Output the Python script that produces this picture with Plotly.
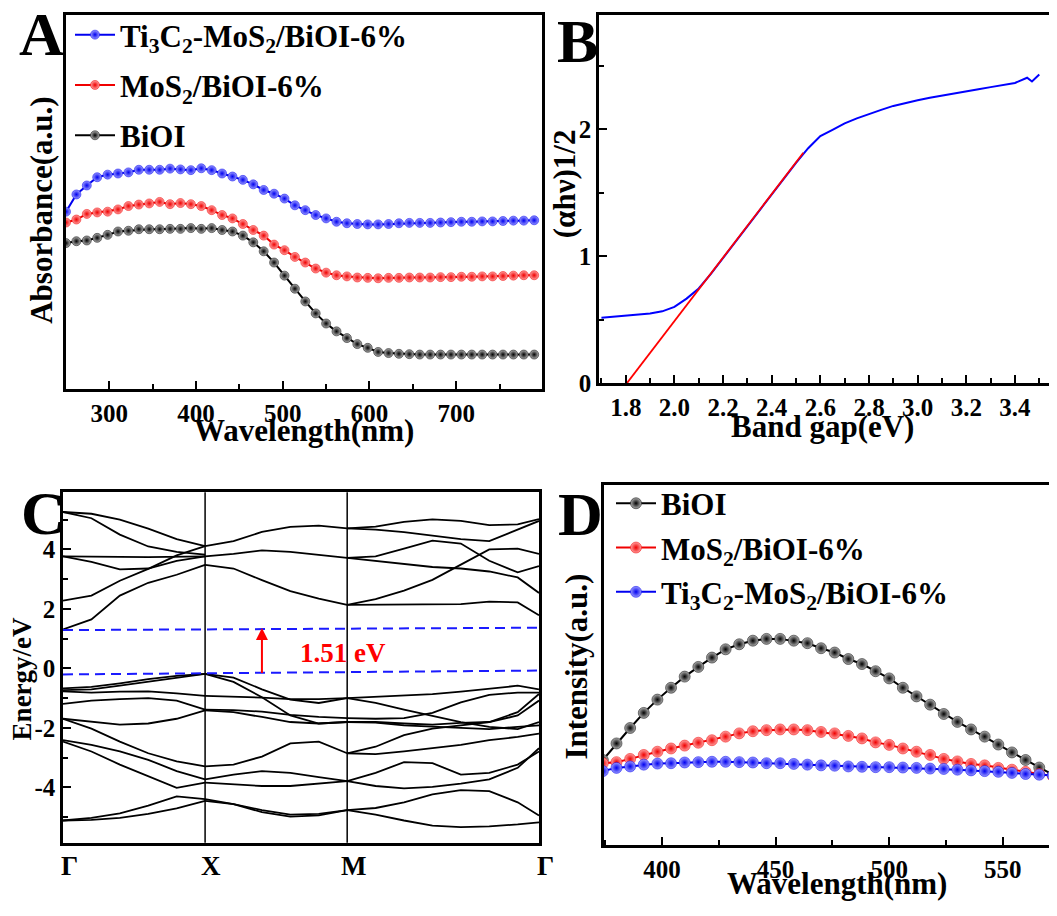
import plotly.graph_objects as go

# Page is 1057x916; the browser body keeps its 8px margin, so the figure is
# 1041x900 and sits 8px in from the top-left corner of the page.
PAGE_W, PAGE_H = 1057, 916
OFF = 8
W, H = PAGE_W - 2 * OFF, PAGE_H - 2 * OFF
FONT = "Liberation Serif"


def px(x):
    return (x - OFF) / W


def py(y):
    return 1 - (y - OFF) / H


# ---------------- Panel A: UV-vis absorbance ----------------
abs_wavelength = [250, 262, 274, 286, 298, 310, 322, 334, 346, 358, 370, 382, 394, 406, 418, 430,
                  442, 454, 466, 478, 490, 502, 514, 526, 538, 550, 562, 574, 586, 598, 610, 622,
                  634, 646, 658, 670, 682, 694, 706, 718, 730, 742, 754, 766, 778, 790]
abs_ti3c2 = [0.474, 0.520, 0.544, 0.566, 0.573, 0.576, 0.579, 0.586, 0.586, 0.586, 0.589, 0.587,
             0.585, 0.590, 0.585, 0.576, 0.568, 0.559, 0.547, 0.532, 0.522, 0.509, 0.491, 0.478,
             0.465, 0.456, 0.447, 0.443, 0.441, 0.440, 0.440, 0.441, 0.443, 0.444, 0.444, 0.444,
             0.445, 0.446, 0.447, 0.447, 0.448, 0.448, 0.449, 0.450, 0.450, 0.451]
abs_mos2 = [0.445, 0.453, 0.468, 0.472, 0.474, 0.480, 0.489, 0.493, 0.496, 0.500, 0.494, 0.497,
            0.494, 0.489, 0.478, 0.465, 0.456, 0.441, 0.425, 0.410, 0.386, 0.371, 0.353, 0.338,
            0.322, 0.311, 0.304, 0.301, 0.298, 0.297, 0.296, 0.297, 0.297, 0.298, 0.298, 0.298,
            0.299, 0.299, 0.300, 0.300, 0.301, 0.301, 0.302, 0.303, 0.304, 0.304]
abs_bioi = [0.390, 0.395, 0.397, 0.404, 0.412, 0.421, 0.423, 0.427, 0.427, 0.427, 0.428, 0.428,
            0.430, 0.428, 0.430, 0.425, 0.421, 0.410, 0.392, 0.368, 0.338, 0.303, 0.268, 0.234,
            0.202, 0.175, 0.154, 0.136, 0.120, 0.110, 0.099, 0.096, 0.094, 0.093, 0.092, 0.092,
            0.092, 0.092, 0.092, 0.092, 0.092, 0.092, 0.092, 0.092, 0.092, 0.092]

# ---------------- Panel B: Tauc plot ----------------
tauc_energy = [1.70, 1.75, 1.80, 1.85, 1.90, 1.95, 2.00, 2.05, 2.10, 2.15, 2.20, 2.25, 2.30, 2.35,
               2.40, 2.45, 2.50, 2.55, 2.60, 2.65, 2.70, 2.75, 2.80, 2.85, 2.90, 2.95, 3.00, 3.05,
               3.10, 3.15, 3.20, 3.25, 3.30, 3.35, 3.40, 3.45, 3.47, 3.50]
tauc_value = [0.515, 0.522, 0.530, 0.537, 0.548, 0.565, 0.600, 0.665, 0.745, 0.860, 0.985, 1.110,
              1.235, 1.362, 1.488, 1.612, 1.735, 1.850, 1.945, 1.995, 2.045, 2.085, 2.120, 2.152,
              2.183, 2.207, 2.227, 2.248, 2.266, 2.282, 2.297, 2.315, 2.331, 2.347, 2.364, 2.405,
              2.375, 2.430]
fit_energy = [1.805, 2.53]
fit_value = [0.0, 1.814]

# ---------------- Panel C: band structure ----------------
k_labels = ["Γ", "X", "M", "Γ"]
k_label_pos = [0.0, 1.0, 2.0, 3.35]
k_gx = [0.0, 0.2, 0.4, 0.6, 0.8, 1.0]
k_xm = [1.0, 1.2, 1.4, 1.6, 1.8, 2.0]
k_mg = [2.0, 2.2, 2.4, 2.6, 2.8, 3.0, 3.2, 3.35]

bands_gx = [
    [5.26, 5.20, 5.00, 4.70, 4.35, 4.11],
    [5.26, 5.05, 4.50, 4.10, 3.92, 3.83],
    [3.77, 3.77, 3.75, 3.74, 3.75, 3.77],
    [3.77, 3.58, 3.33, 3.36, 3.62, 3.77],
    [2.28, 2.45, 2.95, 3.35, 3.80, 4.11],
    [1.31, 1.65, 2.45, 2.88, 3.15, 3.48],
    [-0.67, -0.62, -0.50, -0.36, -0.25, -0.18],
    [-0.73, -0.70, -0.58, -0.45, -0.31, -0.18],
    [-0.77, -0.81, -0.78, -0.77, -0.84, -0.92],
    [-1.19, -1.08, -1.03, -1.00, -1.08, -1.38],
    [-1.69, -1.80, -1.89, -1.85, -1.69, -1.41],
    [-1.69, -2.02, -2.46, -2.85, -3.12, -3.29],
    [-2.41, -2.57, -2.79, -3.07, -3.45, -3.73],
    [-2.46, -2.79, -3.23, -3.62, -4.01, -3.84],
    [-5.11, -5.02, -4.87, -4.61, -4.30, -4.39],
    [-5.11, -5.09, -5.02, -4.89, -4.70, -4.45],
]
bands_xm = [
    [4.11, 4.28, 4.59, 4.76, 4.80, 4.71],
    [3.77, 3.85, 3.97, 3.92, 3.82, 3.72],
    [3.48, 3.36, 2.97, 2.60, 2.35, 2.14],
    [-0.18, -0.31, -0.70, -1.05, -1.16, -1.00],
    [-0.18, -0.45, -0.97, -1.58, -1.85, -1.80],
    [-0.92, -0.94, -0.98, -1.03, -1.03, -1.00],
    [-1.38, -1.40, -1.45, -1.56, -1.63, -1.67],
    [-1.41, -1.47, -1.63, -1.80, -1.85, -1.80],
    [-3.29, -3.23, -2.96, -2.52, -2.46, -2.85],
    [-3.73, -3.57, -3.45, -3.51, -3.65, -3.79],
    [-3.84, -3.90, -3.95, -3.95, -3.87, -3.79],
    [-4.39, -4.56, -4.83, -4.98, -4.94, -4.76],
    [-4.45, -4.56, -4.76, -4.91, -4.89, -4.76],
]
bands_mg = [
    [4.71, 4.77, 4.93, 5.01, 4.96, 4.82, 4.84, 5.02],
    [4.71, 4.67, 4.58, 4.47, 4.35, 4.28, 4.66, 4.96],
    [3.72, 3.77, 4.03, 4.30, 4.20, 3.62, 3.23, 3.44],
    [3.72, 3.61, 3.50, 3.41, 3.36, 3.26, 3.06, 2.54],
    [2.14, 2.33, 2.62, 2.98, 3.49, 4.00, 4.03, 3.85],
    [2.14, 2.14, 2.15, 2.16, 2.16, 2.25, 2.22, 1.79],
    [-1.00, -0.96, -0.92, -0.86, -0.78, -0.67, -0.58, -0.70],
    [-1.00, -1.16, -1.38, -1.58, -1.80, -1.96, -2.04, -1.80],
    [-1.67, -1.69, -1.67, -1.49, -1.14, -0.89, -0.81, -0.81],
    [-1.80, -1.80, -1.85, -1.89, -1.83, -1.80, -1.58, -1.08],
    [-1.80, -1.82, -1.91, -1.96, -2.00, -2.04, -1.96, -1.91],
    [-2.85, -2.63, -2.24, -2.02, -1.91, -1.80, -1.47, -0.86],
    [-2.85, -2.88, -2.79, -2.68, -2.57, -2.41, -2.30, -2.19],
    [-3.79, -3.51, -3.15, -3.18, -3.57, -3.51, -3.23, -2.79],
    [-3.79, -3.95, -4.03, -3.98, -3.87, -3.73, -3.34, -2.68],
    [-4.76, -4.69, -4.50, -4.23, -4.09, -4.12, -4.50, -4.94],
    [-4.76, -4.91, -5.11, -5.28, -5.33, -5.31, -5.24, -5.17],
]
cbm_k = [0.0, 3.35]
cbm_e = [1.29, 1.37]
vbm_k = [0.0, 3.35]
vbm_e = [-0.20, -0.07]
gap_arrow_k = 1.40
gap_arrow_e = [-0.20, 1.36]
gap_text = "1.51 eV"
gap_text_pos = (1.97, 0.53)

# ---------------- Panel D: PL spectra ----------------
pl_wavelength = [374, 380, 386, 392, 398, 404, 410, 416, 422, 428, 434, 440, 446, 452, 458, 464,
                 470, 476, 482, 488, 494, 500, 506, 512, 518, 524, 530, 536, 542, 548, 554, 560,
                 566, 572]
pl_bioi = [0.236, 0.282, 0.325, 0.367, 0.404, 0.437, 0.468, 0.495, 0.521, 0.544, 0.558, 0.568,
           0.573, 0.573, 0.568, 0.561, 0.547, 0.535, 0.517, 0.503, 0.483, 0.463, 0.437, 0.413,
           0.390, 0.364, 0.342, 0.321, 0.301, 0.279, 0.257, 0.236, 0.215, 0.195]
pl_mos2 = [0.227, 0.230, 0.239, 0.250, 0.259, 0.268, 0.276, 0.284, 0.291, 0.301, 0.310, 0.316,
           0.319, 0.321, 0.321, 0.319, 0.314, 0.310, 0.303, 0.296, 0.285, 0.278, 0.268, 0.259,
           0.250, 0.239, 0.232, 0.225, 0.221, 0.214, 0.209, 0.203, 0.197, 0.191]
pl_ti3c2 = [0.205, 0.214, 0.218, 0.223, 0.226, 0.227, 0.229, 0.230, 0.231, 0.231, 0.230, 0.229,
            0.227, 0.227, 0.225, 0.223, 0.221, 0.220, 0.218, 0.217, 0.216, 0.216, 0.215, 0.214,
            0.212, 0.211, 0.209, 0.207, 0.205, 0.203, 0.200, 0.197, 0.195, 0.193]

name_ti3c2 = "Ti<sub>3</sub>C<sub>2</sub>-MoS<sub>2</sub>/BiOI-6%"
name_mos2 = "MoS<sub>2</sub>/BiOI-6%"
name_bioi = "BiOI"

COL = {
    "blue": ("#9a9aff", "#0000f0"),
    "red": ("#ffa0a0", "#f00000"),
    "black": ("#b0b0b0", "#000000"),
}


def ball_trace(x, y, name, col, size, xa, ya, legend, group):
    light, dark = COL[col]
    return go.Scatter(
        x=x, y=y, name=name, mode="lines+markers", xaxis=xa, yaxis=ya,
        legend=legend, legendgroup=group,
        line=dict(color=dark, width=2),
        marker=dict(size=size, color=light, gradient=dict(type="radial", color=dark),
                    line=dict(width=0.5, color=dark)),
    )


fig = go.Figure()

# Panel A
fig.add_trace(ball_trace(abs_wavelength, abs_ti3c2, name_ti3c2, "blue", 9, "x", "y", "legend", "a1"))
fig.add_trace(ball_trace(abs_wavelength, abs_mos2, name_mos2, "red", 9, "x", "y", "legend", "a2"))
fig.add_trace(ball_trace(abs_wavelength, abs_bioi, name_bioi, "black", 9, "x", "y", "legend", "a3"))

# Panel B
fig.add_trace(go.Scatter(x=tauc_energy, y=tauc_value, mode="lines", xaxis="x2", yaxis="y2",
                         line=dict(color="#0000ff", width=2), showlegend=False))
fig.add_trace(go.Scatter(x=fit_energy, y=fit_value, mode="lines", xaxis="x2", yaxis="y2",
                         line=dict(color="#ff0000", width=1.8), showlegend=False))

# Panel C
for kk, bands in ((k_gx, bands_gx), (k_xm, bands_xm), (k_mg, bands_mg)):
    for b in bands:
        fig.add_trace(go.Scatter(x=kk, y=b, mode="lines", xaxis="x3", yaxis="y3",
                                 line=dict(color="black", width=1.8), showlegend=False))
for kk, ee in ((cbm_k, cbm_e), (vbm_k, vbm_e)):
    fig.add_trace(go.Scatter(x=kk, y=ee, mode="lines", xaxis="x3", yaxis="y3",
                             line=dict(color="#1a1aff", width=2, dash="10px,6px"),
                             showlegend=False))

# Panel D
fig.add_trace(ball_trace(pl_wavelength, pl_bioi, name_bioi, "black", 11, "x4", "y4", "legend2", "d1"))
fig.add_trace(ball_trace(pl_wavelength, pl_mos2, name_mos2, "red", 11, "x4", "y4", "legend2", "d2"))
fig.add_trace(ball_trace(pl_wavelength, pl_ti3c2, name_ti3c2, "blue", 11, "x4", "y4", "legend2", "d3"))

tickfont = dict(family=FONT, size=25, color="black", weight="bold")
axis_common = dict(showline=True, linecolor="black", linewidth=2.5, showgrid=False,
                   zeroline=False, tickfont=tickfont, ticks="inside", ticklen=8, tickwidth=2,
                   tickcolor="black")
minor_common = dict(ticks="inside", ticklen=5, tickwidth=2, tickcolor="black")

fig.update_layout(
    width=W, height=H, margin=dict(l=0, r=0, t=0, b=0),
    paper_bgcolor="white", plot_bgcolor="white",
    xaxis=dict(domain=[px(66), px(542)], range=[250, 799], anchor="y", mirror=True,
               tickmode="linear", tick0=300, dtick=100, minor=dict(dtick=50, **minor_common),
               **axis_common),
    yaxis=dict(domain=[py(395), py(15)], range=[0, 1], anchor="x", mirror=True,
               **{**axis_common, "ticks": "", "showticklabels": False}),
    xaxis2=dict(domain=[px(599), 1.0], range=[1.69, 3.54], anchor="y2", mirror=True,
                tickmode="linear", tick0=1.8, dtick=0.2, tickformat=".1f",
                minor=dict(dtick=0.1, **minor_common), **axis_common),
    yaxis2=dict(domain=[py(389), py(15)], range=[0, 2.9], anchor="x2", mirror=False,
                tickmode="linear", tick0=0, dtick=1, minor=dict(dtick=0.5, **minor_common),
                **axis_common),
    xaxis3=dict(domain=[px(63), px(539)], range=[0, 3.35], anchor="y3", mirror=True,
                **{**axis_common, "ticks": "", "showticklabels": False}),
    yaxis3=dict(domain=[py(856), py(500)], range=[-5.86, 5.92], anchor="x3", mirror=True,
                tickmode="array", tickvals=[-4, -2, 0, 2, 4], ticktext=["-4", "-2", "0", "2", "4"],
                minor=dict(tickvals=[-5, -3, -1, 1, 3, 5], **minor_common), **axis_common),
    xaxis4=dict(domain=[px(604), 1.0], range=[374.5, 570.3], anchor="y4", mirror=True,
                tickmode="linear", tick0=400, dtick=50, minor=dict(dtick=25, **minor_common),
                **axis_common),
    yaxis4=dict(domain=[py(858), py(493)], range=[0, 1], anchor="x4", mirror=False,
                **{**axis_common, "ticks": "", "showticklabels": False}),
    legend=dict(x=px(70), y=py(8), xanchor="left", yanchor="top", bgcolor="rgba(0,0,0,0)",
                font=dict(family=FONT, size=31, color="black", weight="bold"),
                traceorder="grouped", tracegroupgap=7, itemwidth=40),
    legend2=dict(x=px(611), y=py(484), xanchor="left", yanchor="top", bgcolor="rgba(0,0,0,0)",
                 font=dict(family=FONT, size=31, color="black", weight="bold"),
                 traceorder="grouped", tracegroupgap=1, itemwidth=40),
)

# vertical high-symmetry lines
for kx in k_label_pos[1:3]:
    fig.add_shape(type="line", xref="x3", yref="y3 domain", x0=kx, x1=kx, y0=0, y1=1,
                  line=dict(color="black", width=1.5))

ann = []


def label(text, x, y, size, angle=0, color="black", bold=True):
    ann.append(dict(text=text, x=px(x), y=py(y), xref="paper", yref="paper", showarrow=False,
                    xanchor="center", yanchor="middle", textangle=angle,
                    font=dict(family=FONT, size=size, color=color,
                              weight="bold" if bold else "normal")))


# panel letters
label("A", 41, 34, 62)
label("B", 577, 42, 62)
label("C", 43, 521, 62)
label("D", 580, 522, 62)
# axis titles
label("Absorbance(a.u.)", 42, 214, 31, -90)
label("Wavelength(nm)", 304, 437, 31)
label("(αhν)1/2", 564, 187, 31, -90)
label("Band gap(eV)", 822, 433, 31)
label("Energy/eV", 22, 690, 27, -90)
label("Intensity(a.u.)", 577, 677, 31, -90)
label("Wavelength(nm)", 837, 897, 31)

# k-point labels
for t, kx in zip(k_labels, k_label_pos):
    ann.append(dict(text=t, x=kx, y=0, xref="x3", yref="y3 domain", yshift=-23, xshift=6,
                    showarrow=False, xanchor="center", yanchor="middle",
                    font=dict(family=FONT, size=27, color="black", weight="bold")))

# gap arrow and text
ann.append(dict(x=gap_arrow_k, y=gap_arrow_e[1], ax=gap_arrow_k, ay=gap_arrow_e[0],
                xref="x3", yref="y3", axref="x3", ayref="y3", text="", showarrow=True,
                arrowhead=2, arrowsize=1.2, arrowwidth=2, arrowcolor="#ff0000"))
ann.append(dict(x=gap_text_pos[0], y=gap_text_pos[1], xref="x3", yref="y3", text=gap_text,
                showarrow=False, xanchor="center", yanchor="middle",
                font=dict(family=FONT, size=27, color="#ff0000", weight="bold")))

fig.update_layout(annotations=ann)

fig.write_html("out.html", config={"displayModeBar": False})
